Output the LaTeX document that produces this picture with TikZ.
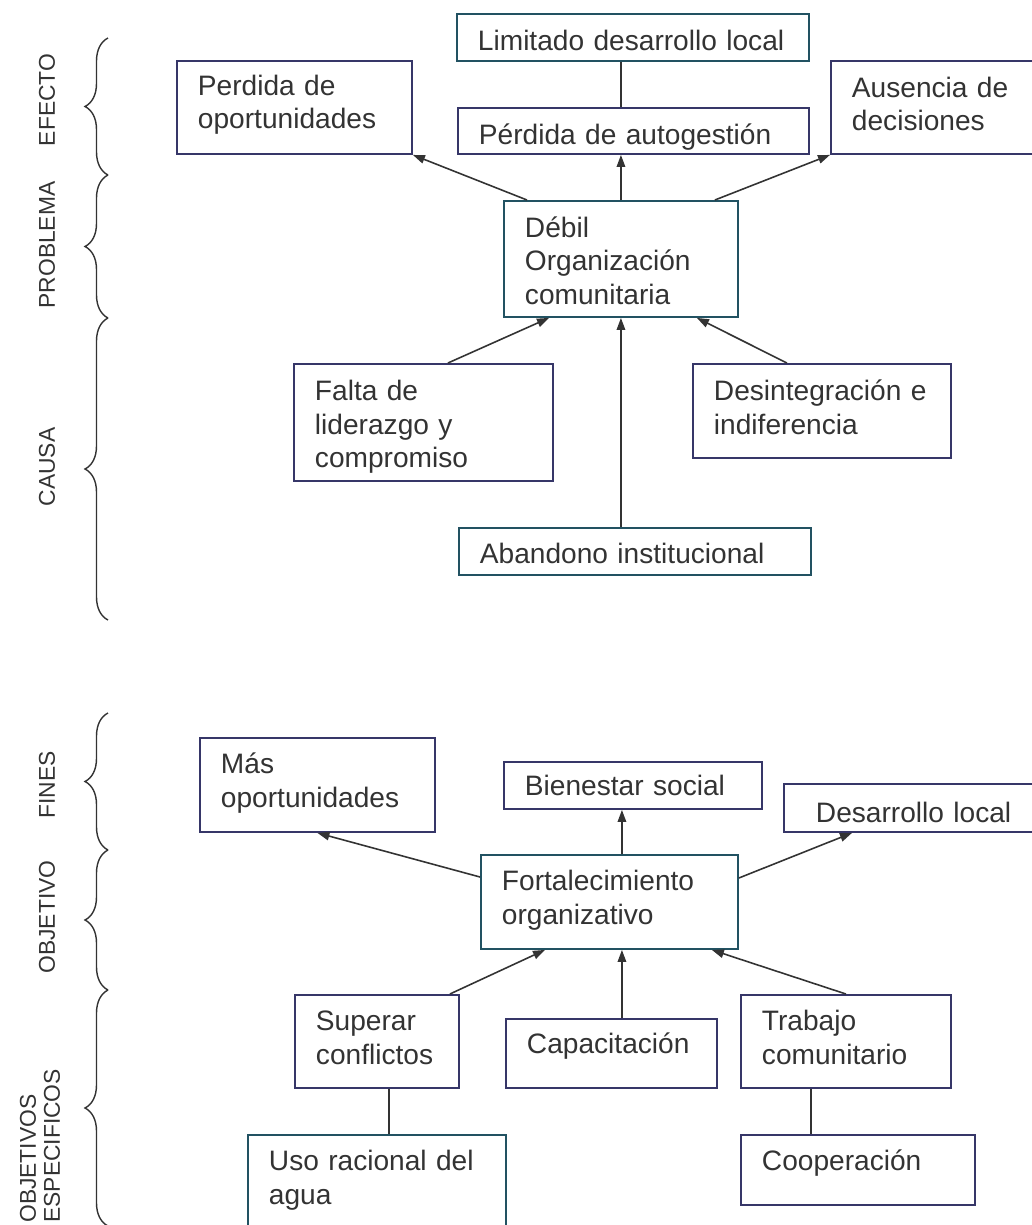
\documentclass[tikz,border=0pt]{standalone}
\usepackage{fontspec}
\setmainfont{Liberation Sans}
\usetikzlibrary{arrows.meta,decorations.pathreplacing}
\definecolor{bordeazul}{RGB}{54,54,104}
\definecolor{bordeverde}{RGB}{34,82,98}
\definecolor{trazo}{RGB}{51,51,51}

\begin{document}
\begin{tikzpicture}[
    x=0.02cm, y=-0.02cm,
    caja/.style={draw=bordeazul, line width=1.1pt, rectangle, anchor=north west, align=left,
        inner xsep=0.42cm, inner ysep=0pt, text=trazo, font=\fontsize{16}{18.8}\selectfont},
    cajaverde/.style={caja, draw=bordeverde},
    flecha/.style={-{Triangle[length=0.24cm,width=0.17cm]}, line width=0.9pt, draw=trazo},
    linea/.style={line width=0.9pt, draw=trazo},
    llave/.style={decorate, decoration={brace, amplitude=0.46cm}, line width=0.8pt, draw=trazo},
    etiqueta/.style={rotate=90, text=trazo, inner sep=0pt, font=\fontsize{13}{13.7}\selectfont}
]
    \useasboundingbox (0,0) rectangle (1032,1225);
    \clip (0,0) rectangle (1032,1225);

    % Arbol de problemas: efectos
    \node[cajaverde, text width=6.2cm, text height=0.74cm, text depth=0.2cm] (lim) at (456,13) {Limitado desarrollo local};
    \node[caja, text width=6.18cm, text height=0.74cm, text depth=0.18cm] (aut) at (457,107) {Pérdida de autogestión};
    \node[caja, text width=3.86cm, text height=0.7cm, text depth=1.16cm] (opo) at (176,60) {Perdida de\\oportunidades};
    \node[caja, text width=4.36cm, text height=0.74cm, text depth=1.12cm] (aus) at (830,60) {Ausencia de\\decisiones};

    % Problema central
    \node[cajaverde, text width=3.84cm, text height=0.74cm, text depth=1.58cm] (deb) at (503,200) {Débil\\Organización\\comunitaria};

    % Causas
    \node[caja, text width=4.34cm, text height=0.74cm, text depth=1.6cm] (fal) at (293,363) {Falta de\\liderazgo y\\compromiso};
    \node[caja, text width=4.32cm, text height=0.74cm, text depth=1.14cm] (des) at (692,363) {Desintegración e\\indiferencia};
    \node[cajaverde, text width=6.2cm, text height=0.72cm, text depth=0.22cm] (aba) at (458,527) {Abandono institucional};

    \draw[linea] (lim.south -| deb.north) -- (aut.north -| deb.north);
    \draw[flecha] ([xshift=0.48cm]deb.north west) -- (opo.south east);
    \draw[flecha] (deb.north) -- (aut.south -| deb.north);
    \draw[flecha] ([xshift=-0.48cm]deb.north east) -- (aus.south west);
    \draw[flecha] ([xshift=0.49cm]fal.north) -- ([xshift=0.92cm]deb.south west);
    \draw[flecha] (aba.north -| deb.south) -- (deb.south);
    \draw[flecha] ([xshift=-0.7cm]des.north) -- ([xshift=-0.84cm]deb.south east);

    % Llaves del arbol de problemas
    \draw[llave] (108,175) -- (108,38);
    \draw[llave] (108,318) -- (108,175);
    \draw[llave] (108,620) -- (108,318);
    \node[etiqueta] (efecto) at (47,100) {EFECTO};
    \node[etiqueta] (problema) at (47,245) {PROBLEMA};
    \node[etiqueta] (causa) at (47,467) {CAUSA};

    % Arbol de objetivos: fines
    \node[caja, text width=3.86cm, text height=0.72cm, text depth=1.16cm] (mas) at (199,737) {Más\\oportunidades};
    \node[caja, text width=4.32cm, text height=0.68cm, text depth=0.26cm] (bie) at (503,761) {Bienestar social};
    \node[caja, inner xsep=0.64cm, text width=4.72cm, text height=0.78cm, text depth=0.18cm] (dlo) at (783,783) {Desarrollo local};

    % Objetivo central
    \node[cajaverde, text width=4.3cm, text height=0.72cm, text depth=1.16cm] (fort) at (480,854) {Fortalecimiento\\organizativo};

    % Objetivos especificos
    \node[caja, text width=2.44cm, text height=0.72cm, text depth=1.14cm] (sup) at (294,994) {Superar\\conflictos};
    \node[caja, text width=3.38cm, text height=0.7cm, text depth=0.68cm] (cap) at (505,1018) {Capacitación};
    \node[caja, text width=3.36cm, text height=0.72cm, text depth=1.14cm] (tra) at (740,994) {Trabajo\\comunitario};
    \node[cajaverde, text width=4.32cm, text height=0.72cm, text depth=1.68cm] (uso) at (247,1134) {Uso racional del\\agua};
    \node[caja, text width=3.84cm, text height=0.72cm, text depth=0.68cm] (coo) at (740,1134) {Cooperación};

    \coordinate (fortn) at ([xshift=0.25cm]fort.north);
    \coordinate (forts) at ([xshift=0.25cm]fort.south);
    \coordinate (supb) at ([xshift=0.24cm]sup.south);
    \coordinate (trab) at ([xshift=-0.7cm]tra.south);

    \draw[flecha] ([yshift=-0.46cm]fort.north west) -- (mas.south);
    \draw[flecha] (fortn) -- (bie.south -| fortn);
    \draw[flecha] ([yshift=-0.48cm]fort.north east) -- ([xshift=1.38cm]dlo.south west);
    \draw[flecha] ([xshift=-0.2cm]sup.north east) -- ([xshift=1.3cm]fort.south west);
    \draw[flecha] (cap.north -| forts) -- (forts);
    \draw[flecha] (tra.north) -- ([xshift=-0.54cm]fort.south east);
    \draw[linea] (supb) -- (uso.north -| supb);
    \draw[linea] (trab) -- (coo.north -| trab);

    % Llaves del arbol de objetivos
    \draw[llave] (108,850) -- (108,713);
    \draw[llave] (108,990) -- (108,850);
    \draw[llave] (108,1226) -- (108,990);
    \node[etiqueta] (fines) at (47,785) {FINES};
    \node[etiqueta] (objetivo) at (47,917) {OBJETIVO};
    \node[etiqueta, align=left, anchor=west] (especificos) at (40,1223) {OBJETIVOS\\ESPECIFICOS};
\end{tikzpicture}
\end{document}
